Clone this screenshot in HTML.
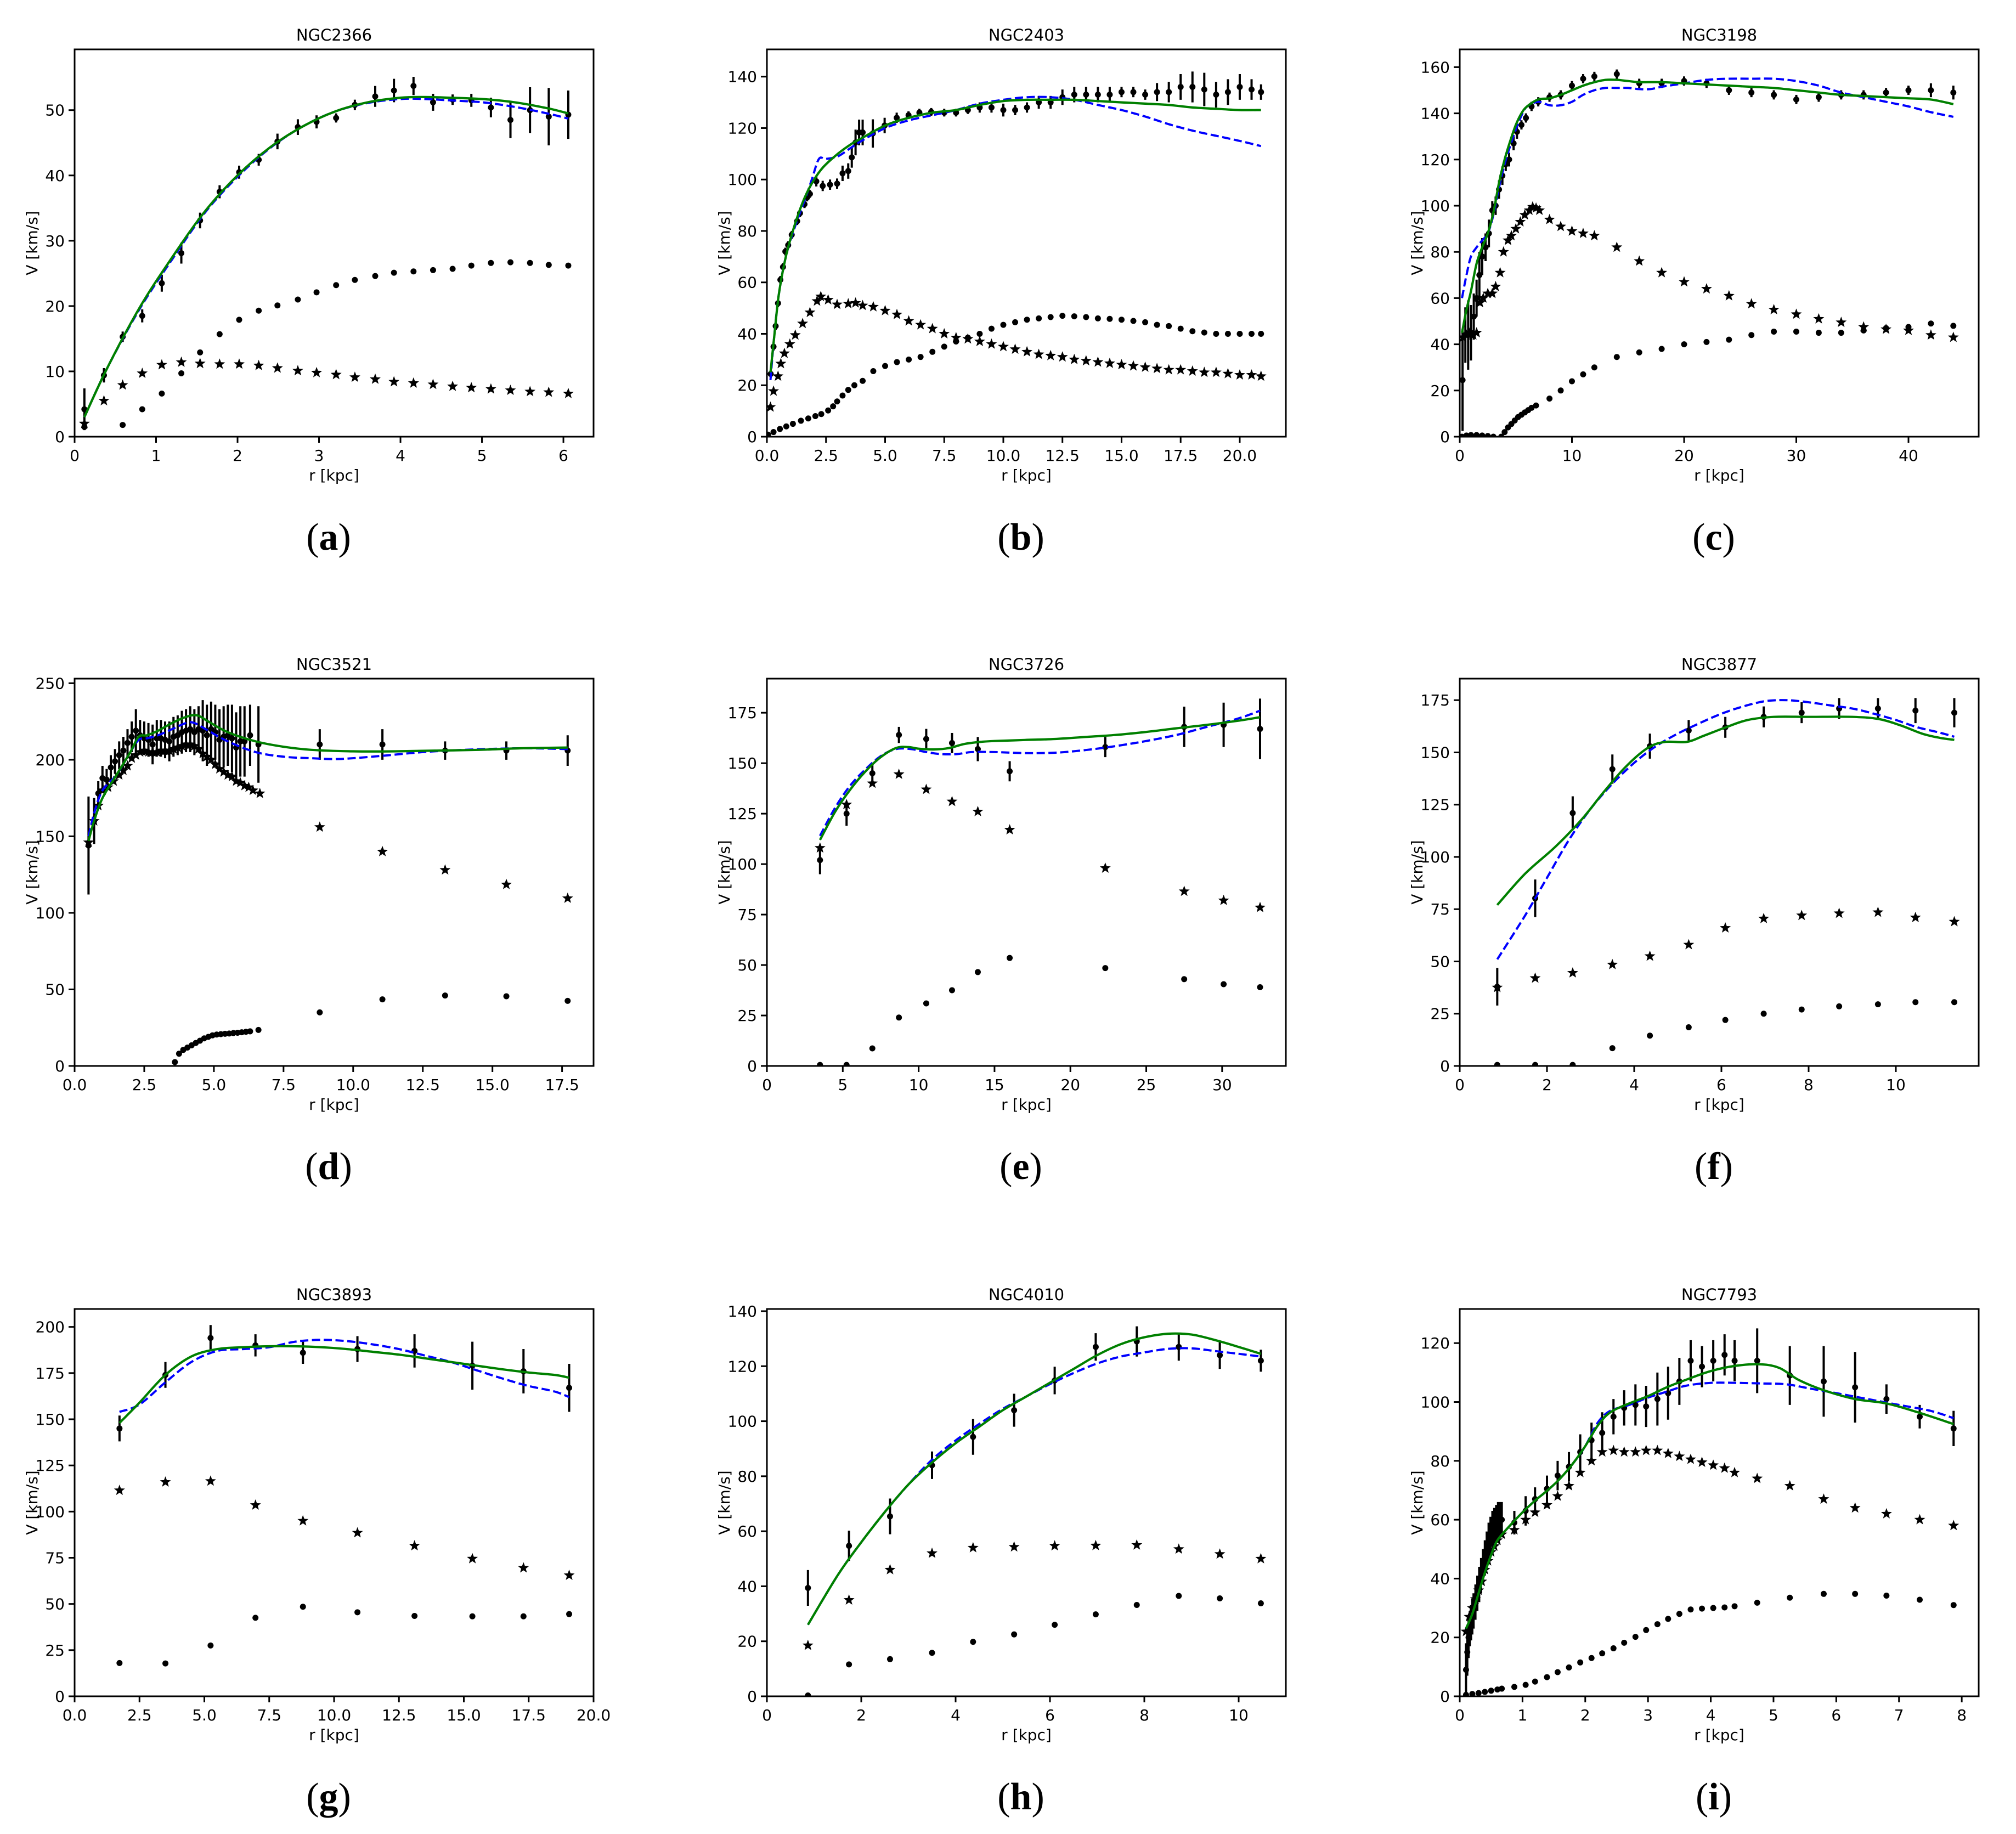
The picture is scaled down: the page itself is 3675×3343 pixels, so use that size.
<!DOCTYPE html>
<html><head><meta charset="utf-8"><title>Rotation curves</title>
<style>
html,body{margin:0;padding:0;background:#fff;}
svg{display:block;}
text{font-family:"DejaVu Sans","Liberation Sans",sans-serif;fill:#000;}
.cap{font-family:"Liberation Serif","DejaVu Serif",serif;}
</style></head>
<body>
<svg id="fig" xmlns="http://www.w3.org/2000/svg" width="3675" height="3343" viewBox="0 0 3675 3343"></svg>
<script>
// ---------- data ----------
// (a) NGC2366
const a_obsR=[0.12,0.36,0.59,0.83,1.07,1.31,1.54,1.78,2.02,2.26,2.49,2.74,2.97,3.21,3.44,3.69,3.92,4.16,4.40,4.64,4.87,5.11,5.35,5.59,5.82,6.06];
const a_obsV=[4.2,9.4,15.3,18.5,23.5,28.1,33.1,37.5,40.5,42.4,45.2,47.4,48.2,48.8,50.8,52.1,53.0,53.7,51.2,51.6,51.5,50.4,48.5,50.0,49.0,49.3];
const a_obsE=[3.2,1.1,0.8,1.0,1.3,1.6,1.2,1.0,1.0,0.9,1.2,1.2,1.0,0.7,0.8,1.6,1.8,1.4,1.3,0.8,1.0,1.5,2.8,3.5,4.4,3.7];
const a_diskR=a_obsR;
const a_diskV=[2.0,5.5,7.9,9.7,11.0,11.4,11.2,11.1,11.1,10.9,10.5,10.1,9.8,9.5,9.1,8.8,8.4,8.2,8.0,7.7,7.5,7.3,7.1,6.9,6.8,6.6];
const a_gasR=[0.12,0.59,0.83,1.07,1.31,1.54,1.78,2.02,2.26,2.49,2.74,2.97,3.21,3.44,3.69,3.92,4.16,4.40,4.64,4.87,5.11,5.35,5.59,5.82,6.06];
const a_gasV=[1.5,1.8,4.2,6.6,9.7,12.9,15.7,17.9,19.3,20.1,21.0,22.1,23.2,24.0,24.6,25.1,25.3,25.5,25.7,26.2,26.6,26.7,26.6,26.3,26.2];
const a_fitR=[0.12,0.4,0.8,1.2,1.6,2.0,2.4,2.8,3.2,3.6,4.0,4.3,4.6,5.0,5.4,5.8,6.06];
const a_fitV=[3.0,10.5,19.8,27.5,34.5,40.0,44.3,47.5,49.8,51.2,51.9,52.0,51.9,51.7,51.2,50.3,49.5];
const a_nfwR=[0.12,0.4,0.8,1.2,1.6,2.0,2.4,2.8,3.2,3.6,4.0,4.3,4.6,5.0,5.4,5.8,6.06];
const a_nfwV=[3.0,10.5,19.6,27.2,34.3,39.8,44.2,47.5,49.8,51.1,51.7,51.7,51.5,51.2,50.5,49.5,48.7];
// (b) NGC2403
const b_obsR=[0.16,0.28,0.37,0.47,0.57,0.68,0.78,0.9,1.05,1.28,1.4,1.59,1.7,1.82,2.09,2.36,2.67,2.97,3.2,3.44,3.59,3.75,3.9,4.05,4.48,4.98,5.49,5.99,6.45,6.95,7.5,8.0,8.5,9.0,9.5,10.0,10.5,11.0,11.5,12.0,12.5,13.0,13.5,14.0,14.5,15.0,15.5,16.0,16.5,17.0,17.5,18.0,18.5,19.0,19.5,20.0,20.5,20.9];
const b_obsV=[24.4,35,43,51.9,61,66,72,74.5,78.5,83.8,86.9,90.4,93,94.4,99.3,97.5,98,98.4,102.4,103.3,108.6,114.4,118.3,118.3,117.9,121,124,125,126,126.3,126,126,127,128,128,127,127,128,130,130,132,133,133,133,133,134,134,133,134,134,136,136,135,133,134,136,135,134];
const b_obsE=[1.5,1.5,1.5,1.5,1.5,1.5,1.5,1.5,1.5,1.5,1.5,1.5,1.5,1.5,2,2,2,2,3,3,4,5,5,5,5.5,3,2,1.5,1.5,1.5,1.5,1.5,1.5,2,2,2.5,2,2,2.5,2.5,3,3,3,3,3,2,2,2,3.5,4,5,6,6.5,5,5,5,4,3];
const b_diskR=[0.15,0.28,0.47,0.59,0.74,0.97,1.2,1.51,1.82,2.12,2.28,2.59,2.97,3.44,3.75,4.05,4.5,5.0,5.5,6.0,6.5,7.0,7.5,8.0,8.5,9.0,9.5,10.0,10.5,11.0,11.5,12.0,12.5,13.0,13.5,14.0,14.5,15.0,15.5,16.0,16.5,17.0,17.5,18.0,18.5,19.0,19.5,20.0,20.5,20.9];
const b_diskV=[11.5,17.7,23.5,28.4,32.4,36,39.5,44,48.3,52.7,54.5,53.2,51.4,51.7,52,51,50.5,49,47.5,45,43.5,42,40,38.5,38,37,36,35,34,33,32,31.5,31,30,29.5,29,28.5,28,27.5,27,26.5,26,26,25.5,25,25,24.5,24,24,23.5];
const b_gasR=[0.05,0.28,0.55,0.82,1.1,1.44,1.75,2.05,2.3,2.59,2.8,2.97,3.2,3.44,3.7,4.05,4.5,5.0,5.5,6.0,6.5,7.0,7.5,8.0,8.5,9.0,9.5,10.0,10.5,11.0,11.5,12.0,12.5,13.0,13.5,14.0,14.5,15.0,15.5,16.0,16.5,17.0,17.5,18.0,18.5,19.0,19.5,20.0,20.5,20.9];
const b_gasV=[0.8,1.8,3.0,4.0,5.0,6.2,7.1,8.0,8.8,10.2,11.8,13.7,16.0,18.2,20.0,21.7,25.5,27.5,29,30,31,33,35,37,38.5,40,42,43.5,44.5,45.5,46,46.5,47,46.8,46.5,46,45.8,45.5,45,44.5,43.5,43,42,41,40.5,40,40,40,40,40];
const b_fitR=[0.15,0.3,0.5,0.8,1.2,1.6,2.0,2.4,3.0,3.6,4.0,5,6,7,8,9,10,11,12,13,14,15,16,17,18,19,20,20.9];
const b_fitV=[25,38,55,70,83,93,100,105,110,114,116,121,124,126,127,129,130.5,131,131,131,130.5,130,129.5,129,128,127.5,127,127];
const b_nfwR=[0.15,0.3,0.5,0.8,1.2,1.6,1.9,2.2,2.5,3,3.5,4,5,6,7,8,9,10,11,12,13,14,15,16,17,18,19,20,20.9];
const b_nfwV=[22,38,55,70,82,92,100,108,108,109,112,115,120,123,125,127,129.5,131,132,132,131,129,127,124.5,121.5,119,117,115,113];
// (c) NGC3198
const c_obsR=[0.25,0.5,0.75,1.0,1.25,1.5,1.75,2.0,2.3,2.6,2.9,3.2,3.5,3.8,4.1,4.4,4.8,5.1,5.5,5.9,6.4,7.0,8,9,10,11,12,14,16,18,20,22,24,26,28,30,32,34,36,38,40,42,44];
const c_obsV=[24.5,44,44,45,52,60,70,78,82,88,98,100,107,113,118,120,127,132,135,138,143,145,147,148,152,155,156,157,153,153,154,153,150,149,148,146,147,148,148,149,150,150,149];
const c_obsE=[22,12,15,12,10,8,10,8,6,6,4,4,4,4,3,3,3,3,2,2,2,2,2,2,2,2,2,2,2,2,2,2,2,2,2,2,2,2,2,2,2,3,3];
const c_diskR=[0.3,0.6,0.9,1.2,1.5,1.8,2.1,2.5,2.9,3.2,3.6,3.9,4.3,4.6,5.0,5.4,5.8,6.2,6.5,6.8,7.1,8,9,10,11,12,14,16,18,20,22,24,26,28,30,32,34,36,38,40,42,44];
const c_diskV=[43,44,45,44,45,58,60,62,62,65,71,80,85,87,90,93,96,98,99.5,99,98,94,91,89,88,87,82,76,71,67,64,61,57.5,55,53,51,49.5,47.5,46.5,46,44,43];
const c_gasR=[0.2,0.6,1.0,1.5,2.0,2.5,3.0,3.7,4.0,4.3,4.6,4.9,5.2,5.5,5.8,6.1,6.4,6.8,8,9,10,11,12,14,16,18,20,22,24,26,28,30,32,34,36,38,40,42,44];
const c_gasV=[0,0.5,0.7,0.7,0.5,0.3,0,0,2,4,5.5,7,8.5,9.5,10.5,11.5,12.5,13.5,16.5,20,24,27,30,34.5,36.5,38,40,41,42,44,45.5,45.5,45,45,46,47,47.5,49,48];
const c_fitR=[0.2,0.6,1,1.5,2,2.5,3,3.5,4,4.5,5,5.5,6,7,8,9,10,11,12,13,14,15,16,18,20,22,24,26,28,30,32,34,36,38,40,42,44];
const c_fitV=[45,55,63,75,82,88,97,110,120,128,135,140,143,146,146.5,148,150,152,153.5,154.5,154.5,154,153.5,153.5,153,152.5,152,151.5,151,150,149,148,147.5,147,146.5,146,144];
const c_nfwR=[0.2,0.6,1,1.5,2,2.5,3,3.5,4,4.5,5,5.5,6,7,8,9,10,11,12,13,14,15,16,17,18,20,22,24,26,28,30,32,34,36,38,40,42,44];
const c_nfwV=[60,70,78,82,85,88,96,108,118,126,133,139,143,145,143.5,143.5,145,148,150,151,151,151,150.5,150.5,151.5,153,154.5,155,155,155,154,152,149,147,145,143,140.5,138.5];
// (d) NGC3521
const d_obsR=[0.5,0.7,0.85,1.0,1.15,1.3,1.45,1.6,1.75,1.9,2.05,2.2,2.35,2.5,2.65,2.8,2.95,3.1,3.25,3.4,3.55,3.7,3.85,4.0,4.15,4.3,4.45,4.6,4.75,4.9,5.05,5.2,5.35,5.5,5.65,5.8,5.95,6.1,6.3,6.6,8.8,11.05,13.3,15.5,17.7];
const d_obsV=[144,160,178,188,187,195,199,203,206,211,215,219,216,214,213,210,214,214,213,212,215,216,218,219,220,218,220,219,216,220,218,213,215,216,214,208,212,212,216,210,210,210,206,206,206];
const d_obsE=[32,15,8,8,7,8,8,9,9,9,10,14,10,11,11,13,12,12,12,13,13,13,14,14,15,15,15,20,20,18,18,20,20,20,22,23,23,23,20,25,10,10,6,6,10];
const d_diskR=[0.5,0.7,0.85,1.0,1.2,1.4,1.6,1.75,1.9,2.05,2.2,2.35,2.5,2.65,2.8,2.95,3.1,3.25,3.4,3.55,3.7,3.85,4.0,4.15,4.3,4.45,4.6,4.75,4.9,5.05,5.2,5.35,5.5,5.65,5.8,5.95,6.1,6.25,6.4,6.65,8.8,11.05,13.3,15.5,17.7];
const d_diskV=[146,160,170,180,182,186,190,193,196,201,203,205,206,205,205,205,206,206,206,207,208,209,210,210,209,207,204,202,200,197,194,192,190,189,186,185,183,182,180,178,156,140,128,118.5,109.5];
const d_gasR=[3.6,3.75,3.9,4.05,4.2,4.35,4.5,4.65,4.8,4.95,5.1,5.25,5.4,5.55,5.7,5.85,6.0,6.15,6.3,6.6,8.8,11.05,13.3,15.5,17.7];
const d_gasV=[2.5,8,10.5,12,13.5,15,16.5,18,19,20,20.5,20.8,21,21.2,21.5,21.7,22,22.3,22.6,23.5,35,43.5,46,45.5,42.5];
const d_fitR=[0.5,0.7,1,1.5,2,2.3,2.6,3,3.5,4,4.4,4.8,5.5,6.5,7.5,8.5,10,11.5,13,14.5,16,17.7];
const d_fitV=[147,160,175,190,205,215,216,219,224,228,229,225,218,212,208.5,206.5,205.5,205.5,206,206.5,207.5,208];
const d_nfwR=[0.5,0.7,1,1.5,2,2.3,2.6,3,3.5,4,4.3,4.8,5.5,6.5,7.5,8.5,9.5,11,12.5,14,16,17.7];
const d_nfwV=[150,165,180,190,205,213,214,216,220,224,224,219,212,205,202,201,200.5,202.5,205,206.5,207.5,207];
// (e) NGC3726
const e_obsR=[3.5,5.25,6.95,8.7,10.5,12.2,13.9,16.0,22.3,27.5,30.1,32.5];
const e_obsV=[102,125,145,164,162,160,157,146,158,168,169,167];
const e_obsE=[7,6,4,4,5,5,6,5,5,10,11,15];
const e_diskR=e_obsR;
const e_diskV=[108,129.5,140,144.5,137,131,126,117,98,86.5,82,78.5];
const e_gasR=e_obsR;
const e_gasV=[0.5,0.5,8.7,24,31,37.5,46.5,53.5,48.5,43,40.5,39];
const e_fitR=[3.5,4.5,5.5,6.5,7.5,8.5,9.3,10,11,12,13,14,15,17,19,21,23,25,27,29,31,32.5];
const e_fitV=[112,126,137,146,153,157.5,158,157.2,156.8,157.5,159.5,160.5,161,161.5,162,163,164,165.5,167.3,169,171,172.8];
const e_nfwR=[3.5,4.5,5.5,6.5,7.5,8.5,9.5,10.5,11.5,12.5,13.5,15,17,19,21,23,25,27,29,31,32.5];
const e_nfwV=[114,128,139,147,153.5,157,157,155.5,154.5,154.5,155.5,155.5,155,155.2,156.5,158.5,161,164,168,172,176];
// (f) NGC3877
const f_obsR=[0.86,1.73,2.59,3.5,4.36,5.25,6.09,6.97,7.84,8.7,9.59,10.45,11.34];
const f_obsV=[37.9,80.2,121,142,153,160.5,162,167,169,171,171,170,169];
const f_obsE=[9,9,8,7,6,5,5,5,5,5,5,6,7];
const f_diskR=f_obsR;
const f_diskV=[37.5,42,44.5,48.5,52.5,58,66,70.5,72,73,73.5,71,69];
const f_gasR=f_obsR;
const f_gasV=[0.5,0.5,0.5,8.5,14.5,18.5,22,25,27,28.5,29.5,30.5,30.5];
const f_fitR=[0.86,1.5,2.2,2.8,3.3,3.8,4.3,4.7,5.2,5.6,6.1,6.6,7.2,8,9,9.6,10.1,10.6,11.0,11.34];
const f_fitV=[77,92,105,118,131,143,152,155,155,158,162,165.5,167,167,167,166,163,159,157,156];
const f_nfwR=[0.86,1.5,2,2.5,3,3.5,4,4.5,5,5.5,6,6.5,7,7.5,8,8.5,9,9.5,10,10.5,11,11.34];
const f_nfwV=[51,72,90,108,123,135,145,153,159,164,168.5,172,174.5,175,174,172.5,171,168.5,165.5,162,159.5,157.5];
// (g) NGC3893
const g_obsR=[1.73,3.5,5.24,6.97,8.8,10.9,13.1,15.33,17.3,19.06];
const g_obsV=[145,174,194,190,186,188,187,179,176,167];
const g_obsE=[7,7,7,6,6,7,9,13,12,13];
const g_diskR=g_obsR;
const g_diskV=[111.5,116,116.5,103.5,95,88.5,81.5,74.5,69.5,65.5];
const g_gasR=g_obsR;
const g_gasV=[18,17.8,27.5,42.5,48.5,45.5,43.5,43.3,43.3,44.5];
const g_fitR=[1.73,2.5,3.5,4.5,5.5,6.5,7.5,8.5,9.5,10.5,11.5,12.5,13.5,14.5,15.5,16.5,17.5,18.5,19.06];
const g_fitV=[148,159,174,184,188,189,189.5,189.5,189,188,186.5,185,183,181,179,177,175.3,174,172.5];
const g_nfwR=[1.73,2.5,3.5,4.5,5.5,6.5,7.5,8.5,9.5,10.5,11.5,12.5,13.5,14.5,15.5,16.5,17.5,18.5,19.06];
const g_nfwV=[154,158,170,181,187,188,189,192,193,192.3,190.5,188,184.5,181,176.5,172,168,165,162];
// (h) NGC4010
const h_obsR=[0.87,1.74,2.61,3.5,4.37,5.24,6.1,6.97,7.84,8.73,9.6,10.47];
const h_obsV=[39.4,54.7,65.4,84,94.3,104,114.8,127,129,127,124,122];
const h_obsE=[6.5,5.5,6.5,5,6.5,6,5,5,5.5,5,5,4];
const h_diskR=h_obsR;
const h_diskV=[18.5,35,46,52,54,54.3,54.7,54.8,55,53.5,51.7,50];
const h_gasR=h_obsR;
const h_gasV=[0.3,11.6,13.5,15.8,19.8,22.5,26,29.8,33.2,36.5,35.6,33.8];
const h_fitR=[0.87,1.5,2,2.5,3,3.5,4,4.5,5,5.5,6,6.5,7,7.5,8,8.5,9,9.5,10,10.47];
const h_fitV=[26,44,56,67,77,85,92,98,104,109,114,119,124,128,130.5,131.8,131.5,129.5,127,124.5];
const h_nfwR=[0.87,1.5,2,2.5,3,3.5,4,4.5,5,5.5,6,6.5,7,7.5,8,8.5,9,9.5,10,10.47];
const h_nfwV=[26,44,56,67,77,86,93,99,104.5,109,113.5,117.5,121,123.5,125,126.3,126.5,125.5,124.5,123.5];
// (i) NGC7793
const i_obsR=[0.1,0.12,0.14,0.16,0.18,0.2,0.22,0.25,0.28,0.31,0.34,0.37,0.4,0.43,0.46,0.49,0.52,0.55,0.58,0.61,0.64,0.67,0.87,1.05,1.2,1.39,1.56,1.74,1.92,2.1,2.27,2.45,2.62,2.8,2.97,3.15,3.32,3.5,3.68,3.86,4.04,4.22,4.38,4.74,5.26,5.8,6.3,6.8,7.33,7.87];
const i_obsV=[9,15,20,23,25,27,29,32,35,38,41,44,47,50,53,55,57,58,59,60,60,60,59,63,67,70.5,75,78,83,87,89.5,95,98,99,98.5,101,103,107,114,112,114,116,114,114,109,107,105,101,95,91];
const i_obsE=[9,8,7,6,6,6,6,6,6,6,6,6,6,6,6,6,6,6,6,6,6,6,4,5,4,4.5,5,5,6,6,7,6,6,7,7,9,9,8,7,7,7,7,7,11,10,12,12,5,4,6];
const i_diskR=[0.1,0.15,0.2,0.25,0.3,0.35,0.4,0.45,0.5,0.55,0.6,0.67,0.87,1.05,1.2,1.39,1.56,1.74,1.92,2.1,2.27,2.45,2.62,2.8,2.97,3.15,3.32,3.5,3.68,3.86,4.04,4.22,4.38,4.74,5.26,5.8,6.3,6.8,7.33,7.87];
const i_diskV=[22,27,30,33,36,39,43,46,49,51,53,55,56.5,60,62.5,65,68,71.5,76,80,83,83.5,83,83,83.5,83.5,82.5,81.5,80.5,79.5,78.5,77.5,76,74,71.5,67,64,62,60,58];
const i_gasR=[0.1,0.2,0.3,0.4,0.5,0.6,0.67,0.87,1.05,1.2,1.39,1.56,1.74,1.92,2.1,2.27,2.45,2.62,2.8,2.97,3.15,3.32,3.5,3.68,3.86,4.04,4.22,4.38,4.74,5.26,5.8,6.3,6.8,7.33,7.87];
const i_gasV=[0.5,0.8,1.1,1.5,1.9,2.3,2.6,3.2,3.9,5.0,6.5,8.2,9.8,11.5,13.0,14.6,16.3,18.2,20.2,22.5,24.5,26.3,28,29.5,29.8,30,30.2,30.6,31.8,33.5,34.8,34.8,34.2,32.8,31];
const i_fitR=[0.1,0.2,0.3,0.4,0.5,0.6,0.8,1,1.2,1.4,1.6,1.8,2.0,2.2,2.4,2.7,3.0,3.3,3.6,4.0,4.4,4.8,5.1,5.4,5.8,6.3,6.8,7.3,7.87];
const i_fitV=[23,28,35,42,48,53,58,62.5,66.5,70,74,79,85,92,96.5,99.5,102,105,107.5,110.5,112.3,112.8,111.5,107.5,104,101,99.5,96.5,92.5];
const i_nfwR=[0.1,0.2,0.3,0.4,0.5,0.6,0.8,1,1.2,1.4,1.6,1.8,2.0,2.2,2.4,2.7,3.0,3.3,3.6,4.0,4.4,4.8,5.2,5.6,6.0,6.5,7.0,7.5,7.87];
const i_nfwV=[23,28,35,42,48,53,58,62.5,66.5,70,74,79,85,93,97,99,101.5,103.5,105.5,106.5,106.5,106.3,106,104.5,103,101,99,97,94.5];

// tick labels
const a_xt=[0,1,2,3,4,5,6], a_yt=[0,10,20,30,40,50];
const b_xt=[0,2.5,5,7.5,10,12.5,15,17.5,20], b_yt=[0,20,40,60,80,100,120,140];
const c_xt=[0,10,20,30,40], c_yt=[0,20,40,60,80,100,120,140,160];
const d_xt=[0,2.5,5,7.5,10,12.5,15,17.5], d_yt=[0,50,100,150,200,250];
const e_xt=[0,5,10,15,20,25,30], e_yt=[0,25,50,75,100,125,150,175];
const f_xt=[0,2,4,6,8,10], f_yt=[0,25,50,75,100,125,150,175];
const g_xt=[0,2.5,5,7.5,10,12.5,15,17.5,20], g_yt=[0,25,50,75,100,125,150,175,200];
const h_xt=[0,2,4,6,8,10], h_yt=[0,20,40,60,80,100,120,140];
const i_xt=[0,1,2,3,4,5,6,7,8], i_yt=[0,20,40,60,80,100,120];

// ---------- layout ----------
const NS="http://www.w3.org/2000/svg";
const svg=document.getElementById('fig');
const colX=[136,1398,2661], rowY=[90,1237,2386], W=946, H=706;
const panels=[
 {k:'a',title:'NGC2366',c:0,r:0,xmax:6.37,ymax:59.3,dec:false,d:{obsR:a_obsR,obsV:a_obsV,obsE:a_obsE,diskR:a_diskR,diskV:a_diskV,gasR:a_gasR,gasV:a_gasV,fitR:a_fitR,fitV:a_fitV,nfwR:a_nfwR,nfwV:a_nfwV,xt:a_xt,yt:a_yt}},
 {k:'b',title:'NGC2403',c:1,r:0,xmax:21.95,ymax:150.6,dec:true,d:{obsR:b_obsR,obsV:b_obsV,obsE:b_obsE,diskR:b_diskR,diskV:b_diskV,gasR:b_gasR,gasV:b_gasV,fitR:b_fitR,fitV:b_fitV,nfwR:b_nfwR,nfwV:b_nfwV,xt:b_xt,yt:b_yt}},
 {k:'c',title:'NGC3198',c:2,r:0,xmax:46.26,ymax:167.7,dec:false,d:{obsR:c_obsR,obsV:c_obsV,obsE:c_obsE,diskR:c_diskR,diskV:c_diskV,gasR:c_gasR,gasV:c_gasV,fitR:c_fitR,fitV:c_fitV,nfwR:c_nfwR,nfwV:c_nfwV,xt:c_xt,yt:c_yt}},
 {k:'d',title:'NGC3521',c:0,r:1,xmax:18.63,ymax:253,dec:true,d:{obsR:d_obsR,obsV:d_obsV,obsE:d_obsE,diskR:d_diskR,diskV:d_diskV,gasR:d_gasR,gasV:d_gasV,fitR:d_fitR,fitV:d_fitV,nfwR:d_nfwR,nfwV:d_nfwV,xt:d_xt,yt:d_yt}},
 {k:'e',title:'NGC3726',c:1,r:1,xmax:34.2,ymax:191.9,dec:false,d:{obsR:e_obsR,obsV:e_obsV,obsE:e_obsE,diskR:e_diskR,diskV:e_diskV,gasR:e_gasR,gasV:e_gasV,fitR:e_fitR,fitV:e_fitV,nfwR:e_nfwR,nfwV:e_nfwV,xt:e_xt,yt:e_yt}},
 {k:'f',title:'NGC3877',c:2,r:1,xmax:11.9,ymax:185.3,dec:false,d:{obsR:f_obsR,obsV:f_obsV,obsE:f_obsE,diskR:f_diskR,diskV:f_diskV,gasR:f_gasR,gasV:f_gasV,fitR:f_fitR,fitV:f_fitV,nfwR:f_nfwR,nfwV:f_nfwV,xt:f_xt,yt:f_yt}},
 {k:'g',title:'NGC3893',c:0,r:2,xmax:20,ymax:209.7,dec:true,d:{obsR:g_obsR,obsV:g_obsV,obsE:g_obsE,diskR:g_diskR,diskV:g_diskV,gasR:g_gasR,gasV:g_gasV,fitR:g_fitR,fitV:g_fitV,nfwR:g_nfwR,nfwV:g_nfwV,xt:g_xt,yt:g_yt}},
 {k:'h',title:'NGC4010',c:1,r:2,xmax:11.0,ymax:140.8,dec:false,d:{obsR:h_obsR,obsV:h_obsV,obsE:h_obsE,diskR:h_diskR,diskV:h_diskV,gasR:h_gasR,gasV:h_gasV,fitR:h_fitR,fitV:h_fitV,nfwR:h_nfwR,nfwV:h_nfwV,xt:h_xt,yt:h_yt}},
 {k:'i',title:'NGC7793',c:2,r:2,xmax:8.27,ymax:131.6,dec:false,d:{obsR:i_obsR,obsV:i_obsV,obsE:i_obsE,diskR:i_diskR,diskV:i_diskV,gasR:i_gasR,gasV:i_gasV,fitR:i_fitR,fitV:i_fitV,nfwR:i_nfwR,nfwV:i_nfwV,xt:i_xt,yt:i_yt}}
];

function mk(tag,attrs,parent){const e=document.createElementNS(NS,tag);for(const k in attrs)e.setAttribute(k,attrs[k]);(parent||svg).appendChild(e);return e;}
function smoothPath(pts){
  if(pts.length<2)return '';
  let d='M'+pts[0][0].toFixed(1)+','+pts[0][1].toFixed(1);
  for(let i=0;i<pts.length-1;i++){
    const p0=pts[i-1]||pts[i],p1=pts[i],p2=pts[i+1],p3=pts[i+2]||p2;
    const c1=[p1[0]+(p2[0]-p0[0])/6,p1[1]+(p2[1]-p0[1])/6];
    const c2=[p2[0]-(p3[0]-p1[0])/6,p2[1]-(p3[1]-p1[1])/6];
    d+=' C'+c1[0].toFixed(1)+','+c1[1].toFixed(1)+' '+c2[0].toFixed(1)+','+c2[1].toFixed(1)+' '+p2[0].toFixed(1)+','+p2[1].toFixed(1);
  }
  return d;
}
function starPts(cx,cy,R,r){let s=[];for(let i=0;i<10;i++){const a=-Math.PI/2+i*Math.PI/5;const rr=i%2?r:R;s.push((cx+rr*Math.cos(a)).toFixed(1)+','+(cy+rr*Math.sin(a)).toFixed(1));}return s.join(' ');}

panels.forEach(p=>{
  const L=colX[p.c],T=rowY[p.r],B=T+H,R=L+W;
  const X=v=>L+v/p.xmax*W, Y=v=>B-v/p.ymax*H;
  const g=mk('g',{});
  
  
  const clipId='clip'+p.k;
  const cp=mk('clipPath',{id:clipId},g);mk('rect',{x:L,y:T,width:W,height:H},cp);
  // title
  const t=mk('text',{x:L+W/2,y:T-16,'font-size':29,'text-anchor':'middle'},g);t.textContent=p.title;
  
  // ticks
  p.d.xt.forEach(v=>{
    mk('line',{x1:X(v),y1:B,x2:X(v),y2:B+11,stroke:'#000','stroke-width':3},g);
    const tl=mk('text',{x:X(v),y:B+44,'font-size':28,'text-anchor':'middle'},g);
    tl.textContent=p.dec?v.toFixed(1):String(v);
    
  });
  p.d.yt.forEach(v=>{
    mk('line',{x1:L,y1:Y(v),x2:L-11,y2:Y(v),stroke:'#000','stroke-width':3},g);
    const tl=mk('text',{x:L-18,y:Y(v)+10,'font-size':28,'text-anchor':'end'},g);
    tl.textContent=String(v);
    
  });
  const xl=mk('text',{x:L+W/2,y:B+80,'font-size':28,'text-anchor':'middle'},g);xl.textContent='r [kpc]';
  
  const yl=mk('text',{x:0,y:0,'font-size':28,'text-anchor':'middle',transform:'translate('+(L-68)+','+(T+H/2)+') rotate(-90)'},g);yl.textContent='V [km/s]';
  
  const cap=mk('text',{x:L+W/2-10,y:T+912,'font-size':70,'text-anchor':'middle','class':'cap'},g);
  cap.innerHTML='(<tspan font-weight="bold">'+p.k+'</tspan>)';
  
  // data layer
  const dl=mk('g',{'clip-path':'url(#'+clipId+')'},g);
  
  const D=p.d;
  // gas dots
  D.gasR.forEach((r,i)=>{const c=mk('circle',{cx:X(r),cy:Y(D.gasV[i]),r:5.5,fill:'#000'},dl);
    });
  // disk stars
  D.diskR.forEach((r,i)=>{const s=mk('polygon',{points:starPts(X(r),Y(D.diskV[i]),10.5,4.4),fill:'#000'},dl);
    });
  // observed with error bars
  D.obsR.forEach((r,i)=>{
    const eb=mk('line',{x1:X(r),x2:X(r),y1:Y(D.obsV[i]-D.obsE[i]),y2:Y(D.obsV[i]+D.obsE[i]),stroke:'#000','stroke-width':4},dl);
    
    const c=mk('circle',{cx:X(r),cy:Y(D.obsV[i]),r:5.5,fill:'#000'},dl);
    
  });
  // blue dashed
  const bl=mk('path',{d:smoothPath(D.nfwR.map((r,i)=>[X(r),Y(D.nfwV[i])])),fill:'none',stroke:'#0000ff','stroke-width':4,'stroke-dasharray':'15,6.5'},dl);
  
  const gl=mk('path',{d:smoothPath(D.fitR.map((r,i)=>[X(r),Y(D.fitV[i])])),fill:'none',stroke:'#008000','stroke-width':4.2},dl);
  
  // frame
  const fr=mk('rect',{x:L,y:T,width:W,height:H,fill:'none',stroke:'#000','stroke-width':3},g);
  
});
</script>
</body></html>
